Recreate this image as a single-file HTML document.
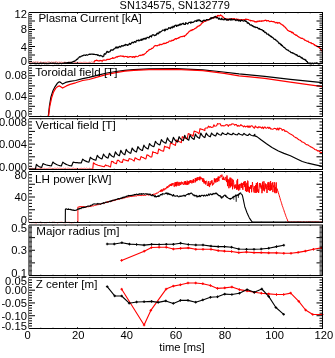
<!DOCTYPE html>
<html><head><meta charset="utf-8"><style>
html,body{margin:0;padding:0;background:#fff;width:335px;height:358px;overflow:hidden}
svg{display:block;filter:blur(0.3px)}
text{font-family:"Liberation Sans",sans-serif;fill:#000}
.tx{will-change:transform}
</style></head><body>
<svg width="335" height="358" viewBox="0 0 335 358">
<rect width="335" height="358" fill="#fff"/>
<g>
<polyline points="29.00,62.14 29.80,61.99 30.60,62.44 31.40,61.92 32.20,62.33 33.00,62.18 33.80,61.90 34.60,62.31 35.40,61.88 36.20,62.24 37.00,61.91 37.80,61.93 38.60,62.23 39.40,62.59 40.20,61.96 41.00,62.05 41.80,62.41 42.60,62.70 43.40,62.37 44.20,62.21 45.00,62.73 45.80,61.89 46.60,62.62 47.40,62.11 48.20,61.98 49.00,61.96 49.80,62.13 50.60,62.58 51.40,62.01 52.20,62.37 53.00,62.43 53.80,62.19 54.60,62.34 55.40,61.91 56.20,61.90 57.00,62.04 57.80,62.46 58.60,62.23 59.40,62.13 60.20,62.38 61.00,62.26 61.80,62.12 62.60,62.56 63.40,62.48 64.20,62.07 65.00,62.37 65.80,62.32 66.60,62.64 67.40,62.51 68.20,62.11 69.00,62.73 69.80,61.96 70.60,62.23 71.40,62.53 72.20,61.99 73.00,62.29 73.80,61.89 74.60,62.45 75.40,62.54 76.20,62.37 77.00,62.64 77.80,62.13 78.60,62.48 79.40,62.38 80.20,62.37 81.00,62.26 81.80,62.61 82.60,62.70 83.40,62.28 84.20,62.45 85.00,61.90 85.80,62.48 86.60,62.43 87.40,62.74 88.20,62.59 89.00,62.11 89.80,62.20 90.60,62.45 91.40,61.87 92.20,62.27 93.00,62.00 93.80,61.96 94.00,61.90" fill="none" stroke="#f00" stroke-width="0.9" stroke-linejoin="round" stroke-opacity="0.55"/>
<polyline points="94.00,62.67 94.50,60.93 94.60,60.98 95.20,60.71 95.80,60.77 96.40,60.01 97.00,60.42 97.60,60.55 98.20,60.92 98.80,60.89 99.40,60.96 100.00,60.41 100.60,60.58 101.20,60.56 101.80,61.03 102.40,61.06 103.00,60.20 103.60,60.18 104.20,60.18 104.80,60.13 105.40,60.23 106.00,60.19 106.60,59.71 107.20,59.30 107.80,59.57 108.40,59.37 109.00,59.35 109.60,59.52 110.20,59.04 110.80,58.65 111.40,58.53 112.00,58.38 112.60,57.62 113.20,58.33 113.80,58.07 114.40,58.03 115.00,57.82 115.60,57.28 116.20,57.15 116.80,56.72 117.40,57.12 118.00,56.41 118.60,56.28 119.20,56.29 119.80,56.11 120.00,56.24 120.40,55.97 121.00,55.96 121.60,56.14 122.20,56.12 122.80,56.42 123.40,56.11 124.00,57.00 124.60,56.77 125.20,56.34 125.80,56.47 126.40,56.60 127.00,56.65 127.20,56.42 127.60,57.17 128.20,57.34 128.80,56.83 129.40,56.88 130.00,56.50 130.60,56.55 131.20,56.81 131.80,56.76 132.40,57.35 133.00,56.71 133.60,56.59 134.20,57.55 134.30,57.13 134.80,56.61 135.40,56.84 136.00,56.15 136.60,56.49 137.20,56.77 137.80,56.49 138.40,56.16 139.00,55.56 139.60,55.49 140.20,55.13 140.80,55.57 141.40,55.16 142.00,55.24 142.60,54.62 143.20,54.35 143.30,54.91 143.80,54.71 144.40,54.12 145.00,53.62 145.60,53.17 146.20,52.64 146.80,51.67 147.40,51.50 148.00,50.89 148.60,50.10 148.70,50.03 149.20,49.92 149.80,49.46 150.40,49.46 151.00,49.29 151.60,48.34 152.20,48.40 152.80,48.01 153.40,47.54 154.00,46.52 154.60,45.94 154.90,45.73 155.20,45.61 155.80,45.46 156.40,45.71 157.00,45.83 157.60,45.60 158.20,45.08 158.80,45.09 159.40,45.07 160.00,44.19 160.60,44.61 161.20,44.69 161.80,44.40 162.40,44.20 163.00,43.77 163.60,43.31 164.20,43.75 164.80,43.13 165.40,43.36 166.00,43.30 166.60,42.49 167.20,42.26 167.80,42.57 168.40,42.11 169.00,41.32 169.60,41.04 170.20,40.83 170.80,41.35 171.40,41.01 172.00,40.11 172.60,40.56 173.20,40.48 173.70,39.96 173.80,39.61 174.40,39.55 175.00,38.87 175.60,38.50 176.20,39.20 176.80,38.62 177.40,38.24 178.00,38.39 178.60,37.63 179.20,37.81 179.80,37.51 180.00,36.81 180.40,36.77 181.00,36.69 181.60,36.52 182.20,36.75 182.80,36.30 183.40,36.34 184.00,35.93 184.50,36.61 184.60,35.95 185.20,35.46 185.80,34.98 186.40,34.70 187.00,33.62 187.60,33.52 188.20,32.50 188.80,31.93 189.00,31.72 189.40,31.01 190.00,31.13 190.60,30.57 191.20,30.08 191.80,30.57 192.40,29.64 193.00,29.64 193.60,29.58 194.20,29.11 194.30,28.83 194.80,28.68 195.40,28.30 196.00,28.12 196.60,27.03 197.20,27.08 197.80,26.35 198.40,25.97 199.00,26.06 199.60,25.38 200.00,25.16 200.20,25.16 200.80,24.71 201.40,23.64 202.00,23.21 202.40,22.71 202.60,22.57 203.20,22.33 203.80,21.66 204.40,21.32 204.80,20.98 205.00,21.37 205.60,20.90 206.20,20.85 206.80,20.69 207.40,19.78 208.00,19.86 208.60,20.02 209.20,19.69 209.60,18.84 209.80,18.75 210.40,18.84 211.00,18.24 211.60,18.17 212.20,17.78 212.80,18.14 213.40,18.03 214.00,17.91 214.30,17.05 214.60,17.47 215.20,17.11 215.80,16.29 216.40,16.73 217.00,16.52 217.60,15.47 217.90,16.05 218.20,15.47 218.80,15.50 219.40,15.94 220.00,15.72 220.60,14.99 220.90,15.23 221.20,15.57 221.80,15.89 222.40,16.25 222.70,16.62 223.00,17.37 223.60,17.37 224.20,18.60 224.50,18.84 224.80,18.45 225.40,18.84 226.00,19.20 226.60,19.16 227.20,18.79 227.80,19.78 228.40,19.65 228.70,19.87 229.00,18.97 229.60,19.07 230.20,18.78 230.80,19.46 231.40,18.88 232.00,18.68 232.60,18.91 233.20,19.33 233.40,19.22 233.80,18.71 234.40,18.69 235.00,19.54 235.60,19.28 236.20,19.49 236.80,18.96 237.00,18.96 237.40,19.68 238.00,19.56 238.60,19.35 239.20,20.35 239.80,20.19 240.00,20.40 240.40,19.65 241.00,20.36 241.60,19.51 242.20,20.25 242.80,19.79 243.40,19.62 244.00,19.77 244.60,20.09 245.20,19.37 245.80,19.18 246.30,19.53 246.40,19.26 247.00,19.28 247.60,19.49 248.20,19.53 248.80,19.83 249.40,20.09 250.00,20.23 250.60,20.83 250.70,20.39 251.20,20.74 251.80,20.60 252.40,20.94 253.00,20.78 253.60,21.19 254.20,21.13 254.80,22.02 255.20,21.95 255.40,21.55 256.00,21.71 256.60,22.05 257.20,21.11 257.80,21.70 258.40,21.19 259.00,21.14 259.60,21.35 259.70,20.89 260.20,20.97 260.80,21.11 261.40,21.36 262.00,20.67 262.60,21.12 263.20,20.95 263.80,20.83 264.40,20.56 265.00,20.45 265.10,20.15 265.60,20.30 266.20,20.32 266.80,21.07 267.40,20.66 268.00,20.65 268.60,20.65 269.20,21.48 269.80,21.59 270.40,21.47 271.00,21.20 271.60,21.29 272.20,21.46 272.80,21.75 273.40,21.57 274.00,21.98 274.60,21.92 275.20,22.74 275.80,22.87 276.40,22.58 277.00,22.40 277.60,23.25 278.20,22.72 278.80,22.90 279.40,22.67 280.00,23.18 280.60,23.75 281.20,24.25 281.80,24.42 282.40,25.20 283.00,25.17 283.60,25.91 283.80,25.89 284.20,26.60 284.80,26.84 285.40,27.42 286.00,28.30 286.60,28.83 287.20,29.79 287.60,30.13 287.80,30.45 288.40,30.67 289.00,31.03 289.60,31.50 290.20,31.32 290.80,31.56 291.40,32.53 292.00,32.00 292.10,32.62 292.60,32.88 293.20,32.68 293.80,33.87 294.40,34.33 295.00,34.46 295.60,34.97 296.20,35.45 296.60,35.04 296.80,35.54 297.40,35.86 298.00,36.54 298.60,36.85 299.20,37.22 299.80,37.32 300.40,37.97 301.00,38.11 301.60,38.46 302.20,38.34 302.70,38.43 302.80,38.58 303.40,39.11 304.00,39.15 304.60,40.19 305.20,40.21 305.80,40.58 306.40,40.88 307.00,41.23 307.60,41.34 308.20,41.15 308.70,42.20 308.80,42.20 309.40,42.25 310.00,42.59 310.60,43.01 311.20,42.72 311.80,43.69 312.40,43.50 313.00,43.62 313.60,44.12 314.20,44.88 314.70,44.61 314.80,45.20 315.40,45.77 316.00,45.63 316.60,45.86 317.20,46.29 317.80,46.84 318.40,47.26 319.00,47.45 319.30,47.64 319.60,47.49 320.20,48.37 320.80,49.30 321.40,50.61 321.50,50.30 322.00,50.82 322.50,50.51" fill="none" stroke="#f00" stroke-width="1.2" stroke-linejoin="round" />
<polyline points="29.00,63.09 29.60,63.24 30.20,63.52 30.80,63.53 31.40,63.52 32.00,63.25 32.60,63.41 33.20,63.38 33.80,63.38 34.40,63.13 35.00,63.68 35.60,63.19 36.20,63.73 36.80,63.71 37.40,63.06 38.00,63.37 38.60,63.62 39.20,63.73 39.80,63.36 40.40,63.24 41.00,63.20 41.60,63.71 42.20,63.20 42.80,63.46 43.40,63.15 44.00,63.42 44.60,63.72 45.20,63.14 45.80,63.62 46.40,63.41 47.00,63.67 47.60,63.54 48.20,63.21 48.80,63.68 49.40,63.39 50.00,63.07 50.60,63.05 51.20,63.39 51.80,63.37 52.40,63.26 53.00,63.15 53.60,63.29 54.20,63.27 54.80,63.64 55.40,63.05 56.00,63.58 56.60,63.64 57.20,63.13 57.80,63.70 58.40,63.55 59.00,63.68 59.60,63.25 60.20,63.31 60.80,63.33 61.40,63.75 62.00,63.46 62.60,63.26 63.20,63.26 63.80,63.11 64.40,62.90 65.00,62.90 65.60,63.36 66.00,62.95 66.20,63.37 66.80,62.79 67.40,62.70 68.00,62.77 68.60,62.44 69.20,62.47 69.80,62.77 70.40,62.62 70.70,62.52 71.00,62.31 71.60,62.34 72.20,62.19 72.80,61.75 73.40,61.70 74.00,61.07 74.30,61.46 74.60,61.07 75.20,60.88 75.80,60.40 76.40,59.75 77.00,59.18 77.60,59.20 78.20,58.04 78.80,57.68 79.40,56.99 79.70,56.66 80.00,56.86 80.60,56.81 81.20,56.09 81.80,56.15 82.40,55.69 83.00,55.65 83.30,55.43 83.60,55.22 84.20,55.11 84.80,55.05 85.40,55.43 86.00,55.05 86.60,54.75 87.20,55.13 87.80,55.10 88.40,54.61 88.70,54.35 89.00,54.35 89.60,54.21 90.20,54.32 90.80,54.08 91.40,54.11 92.00,54.06 92.60,54.21 93.10,54.37 93.20,54.29 93.80,54.18 94.40,54.30 95.00,54.50 95.60,54.51 96.20,54.61 96.80,54.53 97.40,54.80 97.60,55.33 98.00,54.86 98.60,55.31 99.20,55.59 99.80,55.94 100.40,55.39 101.00,55.67 101.60,55.82 102.10,56.23 102.20,56.25 102.80,56.74 103.40,56.20 103.90,55.93 104.00,54.38 104.60,53.73 105.20,54.21 105.80,53.86 106.40,52.48 106.60,52.45 107.00,51.29 107.60,51.71 108.20,52.37 108.80,51.95 109.40,51.76 110.00,51.71 110.60,50.24 111.00,49.84 111.20,49.79 111.80,50.06 112.40,49.97 113.00,50.05 113.60,49.32 114.20,48.83 114.80,48.67 115.40,47.79 115.50,47.89 116.00,46.92 116.60,48.06 117.20,47.01 117.80,48.05 118.40,47.47 119.00,46.77 119.60,46.35 120.00,46.48 120.20,47.07 120.80,47.00 121.40,45.82 122.00,45.57 122.60,46.16 123.20,46.08 123.80,45.57 124.40,45.11 125.00,45.57 125.60,44.39 126.20,44.70 126.80,44.79 127.40,45.46 128.00,44.75 128.60,44.97 129.00,44.16 129.20,43.67 129.80,43.46 130.40,44.43 131.00,43.76 131.60,42.85 132.20,42.13 132.80,42.70 133.40,42.77 134.00,42.10 134.60,41.59 135.20,42.05 135.80,42.25 136.40,40.83 137.00,40.26 137.60,40.54 137.90,40.56 138.20,40.92 138.80,39.92 139.40,40.76 140.00,40.48 140.60,39.90 141.20,39.21 141.80,40.33 142.40,39.03 143.00,39.71 143.60,38.53 144.20,38.34 144.80,39.07 145.40,38.10 146.00,39.04 146.60,38.08 146.90,37.47 147.20,37.41 147.80,37.49 148.40,37.67 149.00,37.91 149.60,36.31 150.20,36.48 150.80,35.93 151.40,36.99 152.00,35.33 152.60,34.93 153.20,34.70 153.80,35.03 154.40,35.64 155.00,35.38 155.60,34.88 155.80,35.25 156.20,34.93 156.80,33.61 157.40,33.07 158.00,34.04 158.60,33.42 159.20,31.90 159.80,32.68 160.40,31.89 161.00,31.59 161.60,31.21 162.20,30.64 162.80,30.05 163.40,30.23 164.00,30.05 164.60,30.77 164.80,29.26 165.20,30.55 165.80,29.04 166.40,29.08 167.00,29.66 167.60,29.44 168.20,28.56 168.80,27.70 169.40,28.20 170.00,27.81 170.60,28.53 171.20,27.08 171.80,27.15 172.40,27.84 173.00,26.15 173.60,26.58 173.70,27.23 174.20,26.98 174.80,25.53 175.40,25.32 176.00,25.15 176.60,26.40 177.20,25.06 177.80,25.69 178.40,25.74 179.00,24.58 179.60,24.25 180.00,25.28 180.20,24.67 180.80,23.96 181.40,24.63 182.00,23.85 182.60,23.69 183.20,23.12 183.80,24.30 184.40,24.47 185.00,23.89 185.40,24.35 185.60,22.75 186.20,22.97 186.80,23.24 187.40,23.92 188.00,23.78 188.60,22.68 189.20,22.32 189.80,22.48 190.40,22.46 190.70,23.13 191.00,21.79 191.60,22.69 192.20,22.43 192.80,22.42 193.40,22.19 194.00,21.76 194.60,21.13 195.20,20.97 195.80,20.89 196.40,21.45 197.00,20.11 197.60,20.16 197.90,21.03 198.20,20.19 198.80,19.92 199.40,19.91 200.00,20.84 200.60,20.49 201.20,21.65 201.80,21.53 202.40,21.75 203.00,20.56 203.60,20.29 204.20,20.11 204.80,20.60 205.40,20.76 206.00,20.11 206.60,19.55 207.20,19.66 207.80,19.78 208.40,19.65 209.00,19.55 209.60,19.49 210.20,18.95 210.80,17.81 211.40,18.80 212.00,17.65 212.60,17.94 213.20,17.44 213.80,17.89 214.40,16.80 215.00,16.71 215.50,16.57 215.60,16.46 216.20,17.96 216.80,17.71 217.40,17.55 218.00,17.93 218.60,19.21 219.10,18.61 219.20,18.16 219.80,19.22 220.40,19.04 221.00,19.69 221.60,18.26 222.20,18.98 222.80,19.64 223.40,19.76 224.00,19.97 224.60,18.56 225.00,19.05 225.20,18.75 225.80,18.87 226.40,20.20 227.00,19.54 227.60,20.13 228.20,19.18 228.80,20.02 229.40,19.31 230.00,18.99 230.60,19.87 231.00,20.16 231.20,18.77 231.80,19.73 232.40,19.90 233.00,19.34 233.60,19.72 234.20,19.46 234.80,19.69 235.40,19.90 235.80,20.57 236.00,20.68 236.60,19.97 237.20,19.70 237.80,20.30 238.40,20.95 239.00,20.17 239.60,20.44 240.00,20.30 240.20,21.31 240.80,20.91 241.40,20.11 242.00,20.20 242.60,20.72 243.20,21.00 243.80,21.18 244.40,20.27 245.00,20.41 245.40,21.33 245.60,20.99 246.20,21.21 246.80,21.68 247.40,23.21 248.00,22.56 248.60,23.42 249.00,23.36 249.20,23.60 249.80,24.77 250.40,25.06 251.00,24.84 251.60,25.08 252.20,26.02 252.50,25.70 252.80,25.62 253.40,26.75 254.00,26.51 254.60,27.14 255.20,26.96 255.80,27.67 256.40,27.48 257.00,27.41 257.60,27.50 257.90,28.15 258.20,28.39 258.80,28.96 259.40,28.44 260.00,29.27 260.60,29.32 261.20,29.75 261.80,29.70 262.40,30.13 263.00,30.67 263.30,31.23 263.60,30.66 264.20,31.53 264.80,32.34 265.00,32.67 265.40,32.17 266.00,32.51 266.60,33.74 267.20,34.18 267.80,34.10 268.40,34.08 269.00,35.37 269.60,35.24 270.20,36.17 270.40,36.02 270.80,36.54 271.40,36.34 272.00,37.43 272.60,37.33 273.20,37.98 273.80,38.89 274.40,39.34 275.00,39.16 275.60,39.66 275.80,40.00 276.20,40.47 276.80,40.87 277.40,41.14 278.00,41.80 278.60,42.81 279.20,43.51 279.80,43.19 280.40,44.24 281.00,44.97 281.10,44.34 281.60,45.57 282.20,45.38 282.80,46.38 283.40,46.85 284.00,47.45 284.60,47.65 285.20,48.29 285.80,48.97 286.40,49.34 286.50,49.66 287.00,49.75 287.60,50.11 288.20,50.06 288.80,51.02 289.40,51.26 290.00,51.37 290.60,52.27 291.20,52.65 291.80,52.70 291.90,52.48 292.40,53.02 293.00,52.96 293.60,53.28 294.20,53.88 294.80,53.84 295.40,54.49 296.00,54.86 296.60,54.69 297.20,55.59 297.30,55.08 297.80,55.99 298.40,56.34 299.00,56.38 299.60,56.23 300.20,56.98 300.80,57.16 301.40,58.04 302.00,57.53 302.60,58.56 303.20,59.05 303.80,59.14 304.40,59.57 305.00,59.31 305.60,60.45 306.00,60.19 306.20,60.90 306.80,61.60 307.40,61.59 307.70,62.59 308.00,63.39 308.20,62.97 308.60,63.25 309.20,63.66 309.80,63.06 310.40,63.80 311.00,63.17 311.60,63.72 312.20,63.04 312.80,63.40 313.40,63.82 314.00,63.11 314.60,63.16 315.20,63.41 315.80,63.22 316.40,62.94 317.00,63.08 317.60,63.06 318.20,63.84 318.80,63.58 319.40,63.80 320.00,63.07 320.60,63.68 321.20,63.02 321.80,63.43 322.40,63.54 322.50,63.26" fill="none" stroke="#000" stroke-width="1.25" stroke-linejoin="round" />
<polyline points="29.00,116.50 48.00,116.50 48.40,115.50 49.40,106.20 50.90,97.20 52.80,91.10 55.10,86.60 57.30,83.30 59.30,81.80 60.60,82.40 62.60,84.10 65.60,82.40 70.00,81.30 75.60,80.50 82.70,78.70 89.00,77.40 98.00,75.10 106.90,73.00 115.90,71.50 124.80,70.40 133.80,69.70 149.00,68.90 175.90,68.60 202.70,69.90 218.90,71.50 239.00,73.90 264.70,76.30 290.30,79.40 322.50,82.60" fill="none" stroke="#000" stroke-width="1.2" stroke-linejoin="round" />
<polyline points="29.00,116.50 48.30,116.50 48.60,115.50 49.80,106.20 51.80,97.20 53.60,91.90 55.80,88.10 58.10,86.30 59.60,85.90 62.60,88.10 66.40,85.90 70.00,84.40 75.60,82.80 82.70,80.50 89.00,79.50 98.00,76.90 106.90,74.40 115.90,72.60 124.80,71.20 133.80,70.30 149.00,69.60 175.90,69.40 202.70,70.70 224.20,73.40 239.00,75.80 250.00,76.90 264.70,78.30 290.30,82.20 322.50,86.60" fill="none" stroke="#f00" stroke-width="1.2" stroke-linejoin="round" />
<polyline points="29.00,168.80 29.80,168.54 30.60,168.56 31.40,168.81 32.20,168.18 33.00,168.89 33.80,168.60 34.60,168.42 35.40,168.74 36.20,168.31 37.00,168.89 37.80,168.56 38.60,168.39 39.40,168.71 40.20,168.45 41.00,168.24 41.80,168.69 42.60,168.14 43.40,168.76 44.20,168.30 45.00,168.61 45.80,168.89 46.60,168.57 47.40,168.63 48.20,168.35 49.00,168.10 49.80,168.13 50.60,168.22 51.40,168.59 52.20,168.45 53.00,168.51 53.80,168.82 54.60,168.21 55.40,168.28 56.20,168.62 57.00,168.12 57.80,168.10 58.60,168.38 59.40,168.19 60.20,168.39 61.00,168.28 61.80,168.57 62.60,168.57 63.40,168.26 64.20,168.60 65.00,168.48 65.80,168.21 66.60,168.85 67.40,168.29 68.20,168.22 69.00,168.18 69.80,168.61 70.60,168.80 71.40,168.73 72.20,168.42 73.00,168.31 73.80,168.11 74.60,168.62 75.40,168.55 76.20,168.38 77.00,168.62 77.80,168.46 78.60,168.85 79.40,168.69 80.20,168.30 81.00,168.82 81.80,168.14 82.60,168.53 83.40,168.42 84.20,168.29 85.00,168.15 85.80,168.72 86.60,168.11 87.40,168.54 88.20,168.85 89.00,168.21 89.80,168.26 90.60,168.59 91.40,168.51 92.20,168.61" fill="none" stroke="#f00" stroke-width="0.9" stroke-linejoin="round" stroke-opacity="0.6"/>
<polyline points="92.40,168.80 92.80,168.80 93.40,162.80 95.00,164.00 98.00,165.20 101.00,166.00 104.10,166.80 105.60,164.86 106.82,165.68 108.05,165.75 109.27,166.43 110.50,167.00 111.50,161.28 112.72,161.49 113.95,162.74 115.17,163.23 116.40,163.75 117.40,160.22 118.62,160.40 119.85,161.64 121.08,162.14 122.30,162.49 123.30,159.12 124.53,159.89 125.75,160.23 126.98,160.63 128.20,161.11 129.20,158.57 130.43,158.93 131.65,159.35 132.88,160.16 134.10,161.07 135.10,157.72 136.33,158.45 137.55,159.15 138.78,159.62 140.00,159.84 141.00,156.54 142.23,157.15 143.45,157.63 144.68,158.49 145.90,158.85 146.90,154.86 148.13,155.25 149.35,156.12 150.58,156.96 151.80,156.93 152.80,151.68 154.03,152.56 155.25,152.44 156.48,153.21 157.70,153.77 158.70,148.95 159.93,149.72 161.15,150.46 162.38,150.87 163.60,151.11 164.60,146.10 165.83,146.98 167.05,147.11 168.28,147.62 169.50,148.73 170.50,142.77 171.73,143.45 172.95,144.08 174.18,144.63 175.40,145.46 176.40,140.04 177.63,140.59 178.85,141.46 180.08,141.92 181.30,142.62 182.30,136.65 183.53,137.17 184.75,137.98 185.98,138.43 187.20,138.80 188.20,133.61 189.43,133.95 190.65,134.86 191.88,135.00 193.10,136.24 194.10,131.15 195.33,131.44 196.55,131.92 197.78,132.56 199.00,133.79 200.00,128.65 201.23,129.11 202.45,129.52 203.68,130.00 204.90,130.59 204.90,128.43 205.80,128.02 206.70,127.94 207.60,127.88 208.50,126.12 209.40,127.23 210.30,126.54 211.20,127.48 212.10,127.29 213.00,127.10 213.90,124.77 214.80,126.33 215.70,126.09 216.60,125.80 217.50,123.59 218.40,123.94 219.30,123.82 220.20,123.74 221.10,125.80 222.00,125.83 222.90,125.51 223.80,126.07 224.70,125.72 225.60,125.00 226.50,124.66 227.40,124.76 228.30,126.35 229.20,124.80 230.10,124.86 231.00,124.89 231.90,123.71 232.80,124.06 233.70,124.03 234.60,125.21 235.50,124.53 236.40,124.56 237.30,126.25 238.20,125.30 239.10,126.28 240.00,125.86 240.90,124.60 241.80,125.67 242.70,125.87 243.60,126.83 244.50,125.95 245.40,126.92 246.30,126.59 247.20,125.88 248.10,127.50 249.00,125.71 249.90,127.52 250.80,126.03 251.70,125.69 252.60,126.24 253.50,127.65 254.40,128.23 255.30,125.95 256.20,127.16 257.10,127.21 258.00,127.99 258.90,126.57 259.80,127.36 260.70,127.05 261.60,128.26 262.50,126.94 263.40,128.63 264.30,127.10 265.20,127.04 266.10,128.31 267.00,127.93 267.90,127.10 268.80,128.47 269.70,127.24 270.60,129.04 271.50,128.92 272.40,129.24 273.30,128.96 274.20,128.40 275.10,128.58 276.00,128.64 276.90,129.91 277.80,128.05 278.70,130.05 279.60,128.06 280.50,128.57 281.40,128.78 282.30,130.39 283.20,129.50 284.10,129.74 285.00,131.47 285.90,130.86 286.80,131.57 287.70,132.15 288.60,132.91 289.50,133.52 290.40,134.04 291.30,134.41 292.20,135.00 293.10,135.47 294.00,136.63 294.90,137.09 295.80,137.76 296.70,137.90 297.60,138.72 298.50,139.59 299.40,140.03 300.30,140.27 301.20,141.14 302.10,142.07 303.00,142.11 303.90,142.61 304.80,143.23 305.70,144.09 306.60,144.74 307.50,144.73 308.40,145.27 309.30,145.88 310.20,146.46 311.10,147.12 312.00,147.34 312.90,147.98 313.80,148.37 314.70,149.51 315.60,149.82 316.50,149.83 317.40,150.92 318.30,150.63 319.20,151.25 320.10,152.13 321.00,152.37 321.90,152.72 322.50,152.80" fill="none" stroke="#f00" stroke-width="1.1" stroke-linejoin="round" />
<polyline points="29.00,169.20 35.40,169.20 36.40,164.30 37.27,165.21 38.13,165.91 39.00,166.44 39.87,166.85 40.73,167.16 41.60,167.40 43.10,163.50 44.48,164.20 45.87,164.74 47.25,165.16 48.63,165.47 50.02,165.71 51.40,165.90 52.90,162.00 54.30,163.17 55.70,164.07 57.10,164.76 58.50,165.29 59.90,165.69 61.30,166.00 62.80,162.10 64.27,163.24 65.73,164.12 67.20,164.79 68.67,165.30 70.13,165.70 71.60,166.00 73.10,162.10 74.45,162.36 75.80,162.57 77.15,162.72 78.50,162.84 79.85,162.93 81.20,163.00 82.70,159.10 83.73,159.98 84.77,160.65 85.80,161.17 86.83,161.57 87.87,161.87 88.90,162.10 90.40,157.30 91.30,158.15 92.20,158.80 93.10,159.30 94.00,159.68 94.90,159.98 95.80,160.20 97.30,155.40 98.08,156.43 98.87,157.21 99.65,157.81 100.43,158.28 101.22,158.63 102.00,158.90 103.50,154.10 104.25,155.27 105.00,156.17 105.75,156.86 106.50,157.39 107.25,157.79 108.00,158.10 109.50,153.30 110.24,154.41 110.98,155.27 111.71,155.92 112.45,156.42 113.19,156.81 113.93,157.10 115.40,151.80 116.08,152.94 116.75,153.82 117.43,154.49 118.10,155.00 118.78,155.40 119.45,155.70 120.80,150.40 121.47,151.66 122.15,152.63 122.82,153.37 123.50,153.93 124.17,154.37 124.85,154.70 126.20,149.40 126.95,150.54 127.70,151.42 128.45,152.09 129.20,152.60 129.95,153.00 130.70,153.30 132.20,148.00 132.91,149.14 133.62,150.02 134.34,150.69 135.05,151.20 135.76,151.60 136.47,151.90 137.90,146.60 138.65,147.74 139.40,148.62 140.15,149.29 140.90,149.80 141.65,150.20 142.40,150.50 143.90,145.20 144.60,146.29 145.30,147.12 146.00,147.75 146.70,148.24 147.40,148.61 148.10,148.90 149.50,143.60 150.24,144.48 150.97,145.15 151.71,145.67 152.45,146.07 153.19,146.37 153.93,146.60 155.40,141.30 156.15,142.36 156.90,143.16 157.65,143.78 158.40,144.26 159.15,144.62 159.90,144.90 161.40,139.60 162.15,140.66 162.90,141.46 163.65,142.08 164.40,142.56 165.15,142.92 165.90,143.20 167.40,137.90 168.15,139.28 168.90,140.33 169.65,141.14 170.40,141.76 171.15,142.24 171.90,142.60 173.40,137.30 174.11,138.68 174.83,139.73 175.54,140.54 176.25,141.16 176.96,141.64 177.68,142.00 179.10,136.70 179.80,137.84 180.50,138.72 181.20,139.39 181.90,139.90 182.60,140.30 183.30,140.60 184.70,135.30 185.38,136.74 186.05,137.84 186.72,138.68 187.40,139.33 188.07,139.82 188.75,140.20 190.10,134.90 190.76,136.22 191.42,137.23 192.09,138.00 192.75,138.60 193.41,139.05 194.07,139.40 195.40,134.10 196.08,135.33 196.75,136.27 197.43,136.99 198.10,137.55 198.78,137.97 199.45,138.29 200.80,133.10 201.48,134.40 202.15,135.40 202.82,136.16 203.50,136.74 204.18,137.19 204.85,137.53 206.20,133.05 206.88,134.14 207.55,134.98 208.22,135.62 208.90,136.11 209.57,136.48 210.25,136.77 211.60,133.00 212.28,133.87 212.95,134.53 213.62,135.03 214.30,135.42 214.97,135.72 215.65,135.94 217.00,132.89 217.68,133.56 218.35,134.08 219.03,134.47 219.70,134.77 220.38,135.00 221.05,135.18 222.40,132.84 223.08,133.36 223.75,133.76 224.43,134.07 225.10,134.31 225.78,134.49 226.45,134.62 227.80,133.00 228.48,133.51 229.15,133.91 229.82,134.21 230.50,134.44 231.18,134.62 231.85,134.76 233.20,133.16 233.88,133.67 234.55,134.07 235.22,134.37 235.90,134.60 236.57,134.78 237.25,134.91 238.60,133.31 239.28,133.83 239.95,134.22 240.62,134.53 241.30,134.76 241.97,134.93 242.65,135.07 244.00,133.47 244.68,134.06 245.35,134.50 246.03,134.85 246.70,135.11 247.38,135.31 248.05,135.47 249.40,133.87 250.08,134.46 250.75,134.92 251.43,135.27 252.10,135.54 252.78,135.74 253.45,135.90 254.80,134.30 254.78,134.77 254.75,135.13 254.73,135.40 254.70,135.61 254.68,135.78 254.65,135.90 256.90,136.60 261.00,139.80 266.50,143.80 272.00,147.50 278.40,151.00 284.00,153.40 290.40,155.70 296.00,158.50 302.30,161.50 308.00,163.20 314.30,164.60 322.50,166.40" fill="none" stroke="#000" stroke-width="1.2" stroke-linejoin="round" />
<polyline points="29.00,222.43 29.28,222.20 29.56,222.64 29.84,222.11 30.12,222.21 30.40,222.39 30.68,222.03 30.96,222.40 31.24,222.79 31.52,222.69 31.80,222.50 32.08,222.63 32.36,222.46 32.64,222.14 32.92,222.60 33.20,222.40 33.48,222.74 33.76,222.91 34.04,222.43 34.32,222.57 34.60,222.75 34.88,222.42 35.16,222.23 35.44,222.72 35.72,222.88 36.00,222.77 36.28,222.70 36.56,222.85 36.84,222.68 37.12,222.64 37.40,222.45 37.68,222.31 37.96,222.63 38.24,222.10 38.52,222.42 38.80,222.78 39.08,222.71 39.36,222.63 39.64,222.25 39.92,222.42 40.20,222.46 40.48,222.62 40.76,222.41 41.04,222.68 41.32,222.93 41.60,222.18 41.88,222.65 42.16,222.78 42.44,222.39 42.72,222.49 43.00,222.97 43.28,222.04 43.56,222.54 43.84,222.16 44.12,222.78 44.40,222.94 44.68,222.52 44.96,222.10 45.24,222.57 45.52,222.54 45.80,222.72 46.08,222.51 46.36,222.64 46.64,222.83 46.92,222.52 47.20,222.41 47.48,222.95 47.76,222.21 48.04,222.68 48.32,222.39 48.60,222.76 48.88,222.12 49.16,222.98 49.44,222.36 49.72,222.06 50.00,222.27 50.28,222.40 50.56,222.01 50.84,222.42 51.12,222.42 51.40,222.70 51.68,222.35 51.96,222.27 52.24,222.22 52.52,222.74 52.80,222.94 53.08,222.53 53.36,222.22 53.64,222.80 53.92,222.39 54.20,222.21 54.48,222.13 54.76,222.78 55.04,222.81 55.32,222.63 55.60,222.47 55.88,222.56 56.16,222.23 56.44,222.96 56.72,222.35 57.00,222.64 57.28,222.82 57.56,222.82 57.84,222.47 58.12,222.29 58.40,222.55 58.68,222.13 58.96,222.83 59.24,222.35 59.52,222.85 59.80,222.27 60.08,222.38 60.36,222.25 60.64,222.43 60.92,222.19 61.20,222.00 61.48,222.72 61.76,222.28 62.04,222.24 62.32,222.30 62.60,222.48 62.88,222.43 63.16,222.64 63.44,222.66 63.72,222.36 64.00,222.93 64.28,222.85 64.56,222.06 64.84,222.83 65.12,222.91 65.40,222.78 65.68,222.14 65.96,222.83 66.24,222.63 66.52,222.01 66.80,222.01 67.08,222.95 67.36,222.66 67.64,222.25 67.92,222.10 68.20,222.14 68.48,222.23 68.76,222.78 69.04,222.35 69.32,222.15 69.60,222.90 69.88,222.79 70.16,222.17 70.44,222.89 70.72,222.61 71.00,222.78 71.28,222.67 71.56,222.89 71.84,222.79 72.12,222.84 72.40,222.20 72.68,222.69 72.96,222.53 73.24,222.74 73.52,222.44 73.80,222.88 74.08,222.56 74.36,222.26 74.64,222.23 74.92,222.14 75.20,222.49 75.48,222.06 75.76,222.47 76.04,222.14 76.32,222.49 76.60,222.50 76.88,222.54 77.16,222.86 77.44,222.01 77.72,222.84 77.90,222.50 77.90,206.90 78.00,206.86 78.28,206.94 78.56,207.03 78.84,207.19 79.12,206.71 79.40,206.74 79.68,207.26 79.96,206.36 80.24,206.91 80.52,206.89 80.80,206.27 81.08,206.83 81.36,206.89 81.50,207.13 81.64,206.54 81.92,207.20 82.20,206.74 82.48,206.73 82.76,207.15 83.04,206.30 83.32,206.99 83.60,206.91 83.88,206.64 84.16,207.17 84.44,206.69 84.72,206.81 85.00,206.87 85.28,207.13 85.56,206.58 85.84,206.82 86.12,206.81 86.30,206.95 86.40,207.21 86.68,206.64 86.96,207.14 87.24,206.68 87.52,206.75 87.80,206.48 88.08,206.68 88.36,207.11 88.64,206.76 88.92,206.86 89.20,206.36 89.48,206.31 89.76,206.26 90.04,206.51 90.32,206.52 90.60,206.64 90.88,205.86 91.00,206.52 91.16,206.65 91.44,206.24 91.72,205.67 92.00,205.85 92.28,205.49 92.56,205.60 92.84,206.26 93.12,205.88 93.40,205.86 93.68,205.92 93.96,205.97 94.24,205.60 94.52,205.54 94.80,205.48 95.08,205.48 95.36,205.31 95.64,205.32 95.80,204.81 95.92,205.24 96.20,204.98 96.48,205.23 96.76,204.52 97.04,204.55 97.32,204.35 97.60,205.03 97.88,205.12 98.16,204.81 98.44,204.47 98.72,204.87 99.00,204.78 99.28,204.50 99.56,204.14 99.84,204.13 100.00,204.22 100.12,204.08 100.40,204.11 100.68,204.24 100.96,204.45 101.24,203.49 101.52,203.92 101.80,203.31 102.08,203.31 102.36,203.92 102.64,203.61 102.92,203.87 103.20,203.31 103.48,202.80 103.76,203.09 104.04,203.21 104.32,203.48 104.60,203.44 104.88,202.85 105.16,202.71 105.44,202.32 105.72,202.78 106.00,202.26 106.28,202.12 106.56,201.90 106.84,201.81 107.12,202.41 107.40,201.76 107.68,202.53 107.96,201.57 108.24,202.27 108.52,201.44 108.80,201.25 109.08,201.87 109.36,201.31 109.60,201.73 109.64,201.18 109.92,200.97 110.20,201.62 110.48,201.49 110.76,201.56 111.04,201.37 111.32,200.65 111.60,201.12 111.88,201.13 112.16,200.81 112.44,201.21 112.72,200.47 113.00,201.11 113.28,200.79 113.56,200.01 113.84,199.94 114.12,200.51 114.40,200.60 114.68,199.80 114.96,199.96 115.24,200.30 115.52,199.67 115.80,200.29 116.08,199.85 116.36,199.35 116.64,199.59 116.92,199.73 117.20,199.52 117.48,199.69 117.76,199.08 118.04,199.67 118.32,199.16 118.60,199.37 118.88,199.29 119.10,199.02 119.16,198.97 119.44,199.30 119.72,199.39 120.00,199.16 120.28,198.87 120.56,198.53 120.84,198.23 121.12,199.07 121.40,198.73 121.68,198.78 121.96,198.22 122.24,198.42 122.52,198.72 122.80,198.51 123.08,198.21 123.36,197.84 123.64,197.89 123.92,198.28 124.20,197.70 124.48,197.94 124.76,197.79 125.04,198.01 125.32,197.85 125.60,197.26 125.88,196.91 126.16,197.10 126.44,197.19 126.72,197.28 127.00,197.44 127.28,197.44 127.56,196.53 127.84,197.25 128.12,197.16 128.40,197.14 128.68,196.78 128.70,196.47 128.96,197.02 129.24,196.94 129.52,196.79 129.80,196.99 130.08,196.39 130.36,196.09 130.64,196.53 130.92,196.74 131.20,196.11 131.48,196.63 131.76,196.78 132.04,196.05 132.32,196.39 132.60,196.43 132.88,196.18 133.16,195.89 133.44,195.91 133.72,196.37 134.00,196.38 134.28,196.01 134.56,195.61 134.84,196.30 135.12,196.23 135.40,195.66 135.68,195.97 135.96,196.26 136.24,196.21 136.52,195.82 136.80,195.74 137.08,195.82 137.36,195.39 137.64,195.36 137.92,195.31 138.20,195.80 138.48,195.44 138.76,195.62 139.04,195.44 139.32,195.53 139.60,195.14 139.88,195.01 140.16,195.94 140.44,195.30 140.72,195.01 141.00,195.51 141.28,195.65 141.56,194.99 141.84,195.41 142.12,195.14 142.40,195.29 142.68,194.77 142.96,194.76 143.24,195.70 143.52,195.55 143.80,195.15 144.08,195.21 144.36,194.88 144.64,195.38 144.92,195.00 145.20,195.50 145.48,195.30 145.76,195.33 146.04,195.45 146.32,194.72 146.60,194.48 146.88,194.63 147.16,194.58 147.20,194.48 147.44,194.43 147.72,194.92 148.00,195.21 148.28,194.78 148.56,195.25 148.84,195.19 149.12,194.33 149.40,194.84 149.68,194.62 149.96,194.33 150.24,195.15 150.52,194.42 150.80,194.71 151.08,194.77 151.36,195.06 151.64,194.76 151.92,194.46 152.20,194.50 152.48,194.19 152.76,194.97 153.04,194.98 153.32,194.19 153.60,193.99 153.88,194.19 154.16,194.26 154.30,194.80 154.44,194.73 154.72,194.53 155.00,193.60 155.28,194.20 155.56,193.98 155.84,193.78 156.12,193.98 156.40,192.91 156.68,192.85 156.96,193.32 157.24,193.37 157.52,192.97 157.80,192.45 158.08,192.60 158.36,192.63 158.64,191.84 158.92,191.91 159.20,191.71 159.48,191.43 159.70,191.68 159.76,191.34 160.04,190.89 160.32,190.51 160.60,191.64 160.88,189.89 161.16,191.43 161.44,190.03 161.72,189.49 162.00,191.48 162.28,189.63 162.56,191.19 162.84,190.88 163.12,190.78 163.40,188.83 163.68,189.42 163.96,188.43 164.24,190.27 164.52,189.91 164.80,189.25 165.08,188.67 165.36,188.25 165.64,189.26 165.92,188.28 166.20,188.49 166.48,187.17 166.76,187.21 166.90,186.74 167.04,188.20 167.32,187.58 167.60,186.37 167.88,187.88 168.16,186.20 168.44,186.31 168.72,185.47 169.00,185.51 169.28,186.64 169.56,185.20 169.84,184.57 170.12,185.11 170.40,184.46 170.68,185.83 170.96,183.90 171.24,185.94 171.52,183.69 171.80,185.67 172.08,185.46 172.36,183.32 172.64,184.51 172.92,183.59 173.20,183.42 173.48,183.13 173.76,183.84 174.04,186.69 174.32,186.68 174.60,186.31 174.88,182.47 175.16,183.31 175.44,186.07 175.72,182.17 175.80,185.24 176.00,183.23 176.28,186.36 176.56,181.91 176.84,185.53 177.12,183.36 177.40,182.41 177.68,181.75 177.96,185.55 178.24,184.12 178.52,182.53 178.80,183.65 179.08,185.82 179.36,182.61 179.64,184.21 179.92,182.19 180.20,182.36 180.48,185.05 180.76,184.76 181.04,182.37 181.32,181.80 181.60,181.82 181.88,184.19 182.16,183.65 182.44,182.61 182.72,182.27 183.00,184.12 183.28,184.51 183.56,184.94 183.84,183.84 184.12,182.04 184.40,181.37 184.68,184.39 184.96,182.85 185.24,184.25 185.52,181.13 185.80,184.56 186.08,182.33 186.36,184.61 186.64,184.67 186.92,182.91 187.20,180.67 187.48,184.74 187.76,182.70 188.04,184.47 188.32,181.64 188.60,181.22 188.88,184.15 189.16,181.96 189.44,180.98 189.72,181.89 190.00,182.87 190.20,180.12 190.28,182.46 190.56,181.99 190.84,182.19 191.12,180.26 191.40,182.87 191.68,183.21 191.96,183.32 192.24,180.69 192.52,182.36 192.80,180.73 193.08,182.31 193.36,179.01 193.64,182.62 193.92,182.87 194.20,180.64 194.48,180.60 194.76,180.56 195.04,180.47 195.32,177.97 195.50,182.25 195.60,178.80 195.88,178.51 196.16,178.05 196.44,178.64 196.72,181.15 197.00,177.44 197.28,177.65 197.56,180.33 197.84,177.92 198.12,177.01 198.40,179.59 198.68,179.39 198.96,179.05 199.24,179.79 199.52,176.93 199.80,180.37 200.00,179.60 200.08,176.55 200.36,177.06 200.64,178.92 200.92,179.10 201.20,178.23 201.48,177.66 201.76,179.11 202.04,178.03 202.32,180.27 202.60,181.66 202.88,178.53 203.16,180.74 203.44,181.93 203.72,178.59 203.90,182.66 204.00,183.39 204.28,180.27 204.56,180.64 204.84,183.33 205.12,181.63 205.40,181.02 205.68,184.48 205.96,183.67 206.24,181.21 206.52,180.80 206.80,181.55 207.08,182.33 207.36,185.78 207.64,184.89 207.92,185.72 208.20,185.31 208.48,185.69 208.76,181.10 209.04,184.06 209.32,186.88 209.60,186.92 209.88,182.98 209.90,184.03 210.16,185.10 210.44,183.27 210.72,184.06 211.00,181.08 211.28,183.05 211.56,183.26 211.84,180.15 212.12,180.64 212.40,185.41 212.68,184.04 212.96,184.79 213.24,182.75 213.52,183.59 213.80,183.83 214.08,183.62 214.36,178.30 214.64,181.73 214.92,179.27 215.20,181.53 215.48,178.88 215.76,180.28 215.80,182.55 216.04,180.61 216.32,178.24 216.60,179.72 216.88,179.06 217.16,182.03 217.44,177.91 217.72,177.87 218.00,179.79 218.28,176.48 218.56,179.19 218.84,181.22 219.12,178.42 219.40,176.81 219.68,177.86 219.96,178.12 220.24,175.67 220.52,175.38 220.80,175.29 221.08,176.12 221.36,176.66 221.64,175.81 221.80,175.46 221.92,174.63 222.20,177.61 222.48,179.61 222.76,178.46 223.04,178.45 223.32,179.17 223.60,176.71 223.88,180.00 224.16,178.73 224.44,179.49 224.72,180.11 225.00,179.29 225.28,177.63 225.56,177.04 225.84,177.03 226.12,180.75 226.40,179.43 226.68,182.09 226.96,175.44 227.24,179.77 227.52,186.11 227.80,178.86 228.08,182.78 228.36,182.10 228.64,179.73 228.92,188.26 229.20,180.06 229.48,185.88 229.76,178.62 230.04,177.62 230.32,187.38 230.60,182.31 230.88,177.87 231.16,181.89 231.44,182.61 231.72,186.26 232.00,178.85 232.28,180.34 232.56,189.25 232.84,186.71 233.12,179.80 233.40,182.09 233.68,182.38 233.96,186.36 234.24,185.75 234.52,188.66 234.80,188.42 234.90,184.81 235.08,187.49 235.36,187.57 235.64,187.80 235.92,184.42 236.20,188.16 236.48,187.28 236.76,189.78 237.04,180.37 237.32,189.32 237.60,178.95 237.88,188.12 238.16,185.99 238.44,184.97 238.72,190.58 239.00,185.92 239.28,184.10 239.56,188.52 239.84,189.62 240.12,186.47 240.40,183.77 240.68,184.67 240.96,184.77 241.24,187.98 241.52,182.85 241.80,184.05 242.08,186.06 242.10,184.01 242.36,183.31 242.64,188.95 242.92,189.75 243.20,185.61 243.48,185.00 243.76,181.93 244.04,183.43 244.32,181.57 244.60,186.79 244.88,186.92 245.16,181.05 245.44,191.09 245.72,183.99 246.00,190.28 246.28,190.27 246.56,191.77 246.84,182.77 247.12,185.49 247.40,191.36 247.68,180.61 247.96,181.11 248.24,187.37 248.52,186.62 248.80,191.75 249.08,190.04 249.30,187.26 249.36,192.78 249.64,187.02 249.92,187.02 250.20,189.05 250.48,185.51 250.76,185.13 251.04,187.99 251.32,185.07 251.60,192.24 251.88,188.99 252.16,187.18 252.44,182.08 252.72,185.39 253.00,185.71 253.28,187.65 253.56,187.81 253.84,191.49 254.12,192.51 254.40,186.78 254.68,186.23 254.96,188.45 255.24,192.92 255.52,185.09 255.80,187.34 256.08,190.78 256.36,183.05 256.40,184.82 256.64,192.75 256.92,190.94 257.20,187.19 257.48,182.38 257.76,191.80 258.04,189.36 258.32,190.94 258.60,192.99 258.88,191.77 259.16,186.18 259.44,183.02 259.72,184.63 260.00,187.31 260.28,187.24 260.56,183.45 260.84,183.40 261.12,188.78 261.40,188.47 261.68,185.49 261.96,193.19 262.24,188.91 262.52,181.79 262.80,186.24 263.08,190.73 263.36,184.94 263.64,189.53 263.92,181.27 264.20,184.86 264.48,191.30 264.76,188.21 265.04,189.17 265.32,183.49 265.60,187.09 265.88,187.74 266.16,184.27 266.44,188.82 266.72,187.42 267.00,192.99 267.28,187.90 267.56,185.92 267.84,182.43 268.12,182.83 268.40,190.05 268.68,182.19 268.96,182.10 269.24,182.92 269.52,187.13 269.80,190.72 270.08,188.18 270.36,190.48 270.40,181.55 270.64,180.99 270.92,190.14 271.20,184.82 271.48,189.59 271.76,185.30 272.04,183.14 272.32,184.36 272.60,182.41 272.88,192.11 273.16,188.30 273.44,185.56 273.72,186.82 274.00,186.10 274.28,182.18 274.56,192.27 274.84,188.62 275.12,193.20 275.40,187.01 275.68,189.23 275.96,184.83 276.24,182.42 276.52,193.12 276.80,192.26 277.08,188.66 277.36,189.79 277.64,190.52 277.92,190.98 278.10,191.66 278.20,192.23 278.48,192.93 278.76,194.19 279.04,194.75 279.32,195.83 279.60,197.01 279.88,197.70 280.16,198.74 280.44,200.06 280.60,200.39 280.72,200.95 281.00,201.48 281.28,202.30 281.56,203.27 281.84,204.03 282.12,205.36 282.40,205.82 282.68,206.84 282.96,207.44 283.10,208.12 283.24,208.44 283.52,209.27 283.80,209.89 284.08,210.74 284.36,211.98 284.64,212.51 284.92,213.27 285.20,214.05 285.48,214.93 285.70,215.54 285.76,215.57 286.04,216.66 286.32,217.17 286.60,217.76 286.88,218.80 287.16,219.13 287.44,219.95 287.72,220.99 288.00,221.27 288.20,221.97 288.28,222.20 288.56,222.18 288.84,221.80 289.12,221.91 289.40,222.13 289.68,221.93 289.96,222.28 290.24,221.82 290.52,222.27 290.80,222.00 291.08,221.84 291.36,221.97 291.64,221.78 291.92,222.12 292.20,221.86 292.48,222.24 292.76,222.05 293.04,221.92 293.32,221.85 293.60,222.06 293.88,221.83 294.16,222.22 294.44,221.77 294.72,222.01 295.00,222.03 295.28,221.86 295.56,222.16 295.84,221.93 296.12,222.09 296.40,222.04 296.68,221.89 296.96,221.93 297.24,221.75 297.52,221.81 297.80,222.21 298.08,221.89 298.36,222.10 298.64,221.77 298.92,222.04 299.20,221.92 299.48,222.00 299.76,221.88 300.04,221.74 300.32,221.89 300.60,221.84 300.88,221.78 301.16,222.13 301.44,221.87 301.72,221.94 302.00,222.25 302.28,222.16 302.56,222.23 302.84,222.22 303.12,221.78 303.40,221.87 303.68,221.72 303.96,222.11 304.24,222.10 304.52,221.91 304.80,221.95 305.08,222.10 305.36,222.12 305.64,221.85 305.92,222.21 306.20,221.91 306.48,222.08 306.76,221.81 307.04,221.77 307.32,222.25 307.60,222.14 307.88,222.13 308.16,221.72 308.44,221.72 308.72,221.80 309.00,221.82 309.28,221.88 309.56,221.93 309.84,221.72 310.12,221.89 310.40,222.08 310.68,221.81 310.96,222.20 311.24,222.04 311.52,222.13 311.80,221.85 312.08,221.96 312.36,222.11 312.64,221.91 312.92,221.70 313.20,222.20 313.48,222.17 313.76,221.87 314.04,221.73 314.32,222.21 314.60,222.06 314.88,221.73 315.16,221.85 315.44,221.77 315.72,222.17 316.00,221.83 316.28,222.25 316.56,222.15 316.84,221.75 317.12,222.12 317.40,221.94 317.68,222.15 317.96,222.20 318.24,221.87 318.52,221.75 318.80,222.27 319.08,221.95 319.36,222.26 319.64,222.11 319.92,222.14 320.20,222.20 320.48,222.08 320.76,221.97 321.04,221.73 321.32,222.12 321.60,221.96 321.88,222.01 322.16,222.26 322.44,221.78 322.50,222.16" fill="none" stroke="#f00" stroke-width="1.0" stroke-linejoin="round" />
<polyline points="29.00,222.50 29.50,222.50 30.00,222.50 30.50,222.50 31.00,222.50 31.50,222.50 32.00,222.50 32.50,222.50 33.00,222.50 33.50,222.50 34.00,222.50 34.50,222.50 35.00,222.50 35.50,222.50 36.00,222.50 36.50,222.50 37.00,222.50 37.50,222.50 38.00,222.50 38.50,222.50 39.00,222.50 39.50,222.50 40.00,222.50 40.50,222.50 41.00,222.50 41.50,222.50 42.00,222.50 42.50,222.50 43.00,222.50 43.50,222.50 44.00,222.50 44.50,222.50 45.00,222.50 45.50,222.50 46.00,222.50 46.50,222.50 47.00,222.50 47.50,222.50 48.00,222.50 48.50,222.50 49.00,222.50 49.50,222.50 50.00,222.50 50.50,222.50 51.00,222.50 51.50,222.50 52.00,222.50 52.50,222.50 53.00,222.50 53.50,222.50 54.00,222.50 54.50,222.50 55.00,222.50 55.50,222.50 56.00,222.50 56.50,222.50 57.00,222.50 57.50,222.50 58.00,222.50 58.50,222.50 59.00,222.50 59.50,222.50 60.00,222.50 60.50,222.50 61.00,222.50 61.50,222.50 62.00,222.50 62.50,222.50 63.00,222.50 63.50,222.50 64.00,222.50 64.50,222.50 65.00,222.50 65.30,222.50 65.40,209.10 65.50,209.10 66.00,209.10 66.50,208.82 67.00,209.22 67.50,209.41 68.00,209.48 68.40,208.80 68.50,209.38 69.00,209.53 69.50,209.57 70.00,209.31 70.50,209.30 71.00,209.99 71.50,209.65 71.90,209.78 72.00,209.97 72.50,209.93 73.00,210.47 73.50,210.07 74.00,210.01 74.30,210.56 74.50,210.55 75.00,210.55 75.50,210.29 76.00,210.30 76.50,210.17 77.00,209.59 77.50,209.43 77.90,208.99 78.00,209.09 78.50,209.17 79.00,208.56 79.50,208.94 80.00,208.30 80.50,208.38 81.00,208.69 81.50,207.73 82.00,207.54 82.50,207.75 83.00,207.38 83.50,207.72 84.00,206.92 84.50,207.53 85.00,207.40 85.50,207.19 86.00,206.72 86.30,206.50 86.50,206.79 87.00,206.53 87.50,206.32 88.00,206.12 88.50,206.08 89.00,206.16 89.50,206.18 90.00,206.12 90.50,205.33 91.00,205.32 91.50,205.22 92.00,205.10 92.50,204.68 93.00,204.32 93.50,204.00 94.00,203.98 94.50,203.88 95.00,204.11 95.20,203.97 95.50,203.95 96.00,204.09 96.50,204.12 97.00,203.86 97.50,204.07 98.00,203.44 98.50,204.03 99.00,204.01 99.50,203.78 100.00,204.06 100.50,204.28 101.00,203.72 101.50,203.74 102.00,203.30 102.50,203.21 103.00,203.57 103.50,202.66 104.00,202.68 104.50,202.99 105.00,202.65 105.50,202.19 106.00,202.58 106.50,202.19 107.00,202.25 107.50,201.97 108.00,201.94 108.50,201.84 109.00,201.56 109.50,201.18 109.60,201.21 110.00,201.73 110.50,201.28 111.00,200.74 111.50,201.27 112.00,200.57 112.50,200.28 113.00,200.53 113.50,200.13 114.00,200.19 114.50,200.10 115.00,199.66 115.50,199.83 116.00,199.27 116.50,199.48 117.00,199.40 117.50,198.79 118.00,198.94 118.50,198.49 119.00,198.68 119.10,199.03 119.50,198.62 120.00,198.62 120.50,198.51 121.00,197.78 121.50,198.42 122.00,198.02 122.50,197.31 123.00,197.82 123.50,197.27 124.00,196.92 124.50,197.48 125.00,196.97 125.50,197.01 126.00,196.29 126.50,196.71 127.00,195.92 127.50,195.93 128.00,195.90 128.50,195.42 128.70,195.88 129.00,195.48 129.50,195.46 130.00,195.73 130.50,195.38 131.00,195.70 131.50,195.36 132.00,195.48 132.50,195.11 133.00,195.33 133.50,195.19 134.00,194.46 134.50,194.88 135.00,194.42 135.50,194.70 135.80,194.56 136.00,194.68 136.50,194.01 137.00,194.20 137.50,194.50 138.00,194.65 138.50,194.41 139.00,193.77 139.50,194.24 140.00,193.75 140.50,194.12 141.00,194.31 141.50,193.66 142.00,194.35 142.50,194.09 143.00,193.68 143.50,193.66 144.00,193.92 144.50,194.31 145.00,194.11 145.50,193.73 146.00,193.68 146.50,193.80 147.00,194.45 147.50,193.93 148.00,194.30 148.50,194.10 149.00,194.49 149.50,194.25 150.00,193.82 150.10,195.00 150.50,194.62 151.00,195.06 151.50,195.45 152.00,195.87 152.50,194.57 153.00,195.30 153.50,195.19 154.00,195.95 154.50,196.74 154.90,196.78 155.00,195.58 155.50,195.91 156.00,197.02 156.50,196.89 157.00,196.53 157.50,196.44 158.00,195.70 158.50,196.58 159.00,195.63 159.50,196.17 160.00,195.52 160.50,194.44 161.00,194.62 161.50,194.22 162.00,195.08 162.10,194.54 162.50,193.59 163.00,193.70 163.50,193.92 164.00,193.99 164.50,194.07 165.00,193.68 165.50,193.53 166.00,192.88 166.50,193.70 166.90,193.23 167.00,192.76 167.50,193.63 168.00,194.63 168.50,193.28 169.00,193.60 169.50,194.60 170.00,194.12 170.50,194.28 171.00,194.80 171.30,194.52 171.50,195.05 172.00,195.07 172.50,195.85 173.00,195.99 173.50,194.55 174.00,195.48 174.50,195.91 175.00,196.16 175.50,196.10 176.00,195.96 176.50,196.05 177.00,195.71 177.50,195.67 178.00,196.58 178.50,196.80 179.00,196.87 179.50,196.43 180.00,195.79 180.50,196.49 181.00,196.42 181.50,196.02 182.00,196.19 182.50,195.71 183.00,196.00 183.50,195.73 184.00,195.15 184.50,195.56 184.80,195.52 185.00,196.50 185.50,195.49 186.00,195.10 186.50,194.70 187.00,194.48 187.50,194.46 188.00,193.92 188.50,193.51 189.00,194.69 189.50,193.81 190.00,193.60 190.50,193.59 190.70,193.08 191.00,193.02 191.50,193.09 192.00,193.71 192.50,193.96 193.00,194.87 193.50,194.84 194.00,195.69 194.50,194.98 195.00,196.15 195.50,195.85 196.00,195.29 196.50,195.69 196.70,196.43 197.00,197.06 197.50,196.02 198.00,196.65 198.50,196.06 199.00,196.73 199.50,195.41 200.00,196.05 200.50,196.67 201.00,195.64 201.50,195.58 202.00,195.17 202.50,195.36 203.00,195.49 203.50,196.15 203.90,195.35 204.00,195.62 204.50,195.18 205.00,195.71 205.50,196.01 206.00,195.55 206.50,194.71 207.00,195.45 207.50,195.70 208.00,195.00 208.50,194.05 209.00,195.11 209.50,195.09 209.90,194.15 210.00,193.80 210.50,193.80 211.00,194.27 211.50,194.73 212.00,194.27 212.50,194.64 213.00,193.41 213.50,193.51 214.00,194.10 214.50,193.86 215.00,193.38 215.50,193.74 215.80,193.14 216.00,192.83 216.50,193.74 217.00,193.49 217.50,194.76 218.00,194.64 218.50,195.24 219.00,195.74 219.50,195.54 220.00,196.21 220.50,195.83 221.00,197.63 221.50,197.40 221.80,198.28 222.00,196.66 222.50,197.24 223.00,197.11 223.50,196.16 224.00,195.47 224.50,195.26 225.00,194.93 225.50,196.33 226.00,195.64 226.50,197.20 227.00,196.98 227.50,197.56 228.00,197.92 228.50,198.14 229.00,198.59 229.50,198.77 230.00,198.62 230.20,199.39 230.50,198.41 231.00,198.80 231.50,198.55 232.00,198.24 232.50,197.16 233.00,197.57 233.20,197.76 233.50,196.78 234.00,196.25 234.50,196.39 235.00,196.81 235.50,195.26 236.00,194.81 236.20,195.46 236.50,195.62 237.00,195.60 237.50,194.73 238.00,195.52 238.50,194.09 239.00,194.73 239.50,193.45 240.00,193.14 240.50,193.10 240.70,192.90 241.00,193.87 241.50,194.39 242.00,194.74 242.30,195.00 242.50,195.91 243.00,198.20 243.50,200.49 243.70,201.40 244.00,202.85 244.50,205.25 244.80,206.70 245.00,207.25 245.50,208.63 246.00,210.01 246.50,211.40 246.90,212.50 247.00,212.72 247.50,213.82 248.00,214.93 248.50,216.03 249.00,217.14 249.30,217.80 249.50,218.10 250.00,218.87 250.50,219.63 251.00,220.39 251.50,221.15 251.60,221.30 252.00,221.61 252.50,222.00 253.00,222.00 253.50,222.00 254.00,222.00 254.50,222.00 255.00,222.00 255.50,222.00 256.00,222.00 256.50,222.00 257.00,222.00 257.50,222.00 258.00,222.00 258.50,222.00 259.00,222.00 259.50,222.00 260.00,222.00 260.50,222.00 261.00,222.00 261.50,222.00 262.00,222.00 262.50,222.00 263.00,222.00 263.50,222.00 264.00,222.00 264.50,222.00 265.00,222.00 265.50,222.00 266.00,222.00 266.50,222.00 267.00,222.00 267.50,222.00 268.00,222.00 268.50,222.00 269.00,222.00 269.50,222.00 270.00,222.00 270.50,222.00 271.00,222.00 271.50,222.00 272.00,222.00 272.50,222.00 273.00,222.00 273.50,222.00 274.00,222.00 274.50,222.00 275.00,222.00 275.50,222.00 276.00,222.00 276.50,222.00 277.00,222.00 277.50,222.00 278.00,222.00 278.50,222.00 279.00,222.00 279.50,222.00 280.00,222.00 280.50,222.00 281.00,222.00 281.50,222.00 282.00,222.00 282.50,222.00 283.00,222.00 283.50,222.00 284.00,222.00 284.50,222.00 285.00,222.00 285.50,222.00 286.00,222.00 286.50,222.00 287.00,222.00 287.50,222.00 288.00,222.00 288.50,222.00 289.00,222.00 289.50,222.00 290.00,222.00 290.50,222.00 291.00,222.00 291.50,222.00 292.00,222.00 292.50,222.00 293.00,222.00 293.50,222.00 294.00,222.00 294.50,222.00 295.00,222.00 295.50,222.00 296.00,222.00 296.50,222.00 297.00,222.00 297.50,222.00 298.00,222.00 298.50,222.00 299.00,222.00 299.50,222.00 300.00,222.00 300.50,222.00 301.00,222.00 301.50,222.00 302.00,222.00 302.50,222.00 303.00,222.00 303.50,222.00 304.00,222.00 304.50,222.00 305.00,222.00 305.50,222.00 306.00,222.00 306.50,222.00 307.00,222.00 307.50,222.00 308.00,222.00 308.50,222.00 309.00,222.00 309.50,222.00 310.00,222.00 310.50,222.00 311.00,222.00 311.50,222.00 312.00,222.00 312.50,222.00 313.00,222.00 313.50,222.00 314.00,222.00 314.50,222.00 315.00,222.00 315.50,222.00 316.00,222.00 316.50,222.00 317.00,222.00 317.50,222.00 318.00,222.00 318.50,222.00 319.00,222.00 319.50,222.00 320.00,222.00 320.50,222.00 321.00,222.00 321.50,222.00 322.00,222.00 322.50,222.00" fill="none" stroke="#000" stroke-width="1.1" stroke-linejoin="round" />
<path d="M233.8,196.70V199.9" stroke="#000" stroke-width="0.6"/><path d="M236.2,195.50V201.8" stroke="#000" stroke-width="0.9"/><path d="M238.4,194.57V197.9" stroke="#000" stroke-width="0.8"/>
<polyline points="121.60,260.40 144.20,251.20 151.60,247.50 159.10,247.20 166.30,247.20 173.40,249.00 180.60,248.40 188.30,247.90 195.80,249.30 203.00,249.30 211.00,249.30 218.20,250.60 224.50,251.10 231.60,251.50 238.80,252.60 246.50,252.00 254.00,252.60 261.20,252.60 268.70,252.90 276.50,252.90 283.80,253.30 291.00,253.30 298.10,252.40 305.30,251.10 313.40,249.30 321.40,247.90 322.50,247.70" fill="none" stroke="#f00" stroke-width="1.1" stroke-linejoin="round" />
<path d="M120.30,260.40H122.90M121.60,259.10V261.70M142.90,251.20H145.50M144.20,249.90V252.50M150.30,247.50H152.90M151.60,246.20V248.80M157.80,247.20H160.40M159.10,245.90V248.50M165.00,247.20H167.60M166.30,245.90V248.50M172.10,249.00H174.70M173.40,247.70V250.30M179.30,248.40H181.90M180.60,247.10V249.70M187.00,247.90H189.60M188.30,246.60V249.20M194.50,249.30H197.10M195.80,248.00V250.60M201.70,249.30H204.30M203.00,248.00V250.60M209.70,249.30H212.30M211.00,248.00V250.60M216.90,250.60H219.50M218.20,249.30V251.90M223.20,251.10H225.80M224.50,249.80V252.40M230.30,251.50H232.90M231.60,250.20V252.80M237.50,252.60H240.10M238.80,251.30V253.90M245.20,252.00H247.80M246.50,250.70V253.30M252.70,252.60H255.30M254.00,251.30V253.90M259.90,252.60H262.50M261.20,251.30V253.90M267.40,252.90H270.00M268.70,251.60V254.20M275.20,252.90H277.80M276.50,251.60V254.20M282.50,253.30H285.10M283.80,252.00V254.60M289.70,253.30H292.30M291.00,252.00V254.60M296.80,252.40H299.40M298.10,251.10V253.70M304.00,251.10H306.60M305.30,249.80V252.40M312.10,249.30H314.70M313.40,248.00V250.60M320.10,247.90H322.70M321.40,246.60V249.20" stroke="#f00" stroke-width="1.0" fill="none"/>
<polyline points="107.20,244.00 114.30,244.00 121.90,242.70 129.50,244.10 136.60,244.50 144.10,245.10 151.60,244.40 159.10,244.50 166.30,244.30 173.40,244.30 180.60,243.20 188.30,244.50 195.80,245.00 203.00,245.00 211.00,246.10 218.20,246.60 224.50,246.60 231.60,247.20 238.80,249.00 246.50,249.30 254.00,249.30 261.20,249.00 268.70,248.20 276.50,246.60 283.80,245.20" fill="none" stroke="#000" stroke-width="1.1" stroke-linejoin="round" />
<path d="M105.90,244.00H108.50M107.20,242.70V245.30M113.00,244.00H115.60M114.30,242.70V245.30M120.60,242.70H123.20M121.90,241.40V244.00M128.20,244.10H130.80M129.50,242.80V245.40M135.30,244.50H137.90M136.60,243.20V245.80M142.80,245.10H145.40M144.10,243.80V246.40M150.30,244.40H152.90M151.60,243.10V245.70M157.80,244.50H160.40M159.10,243.20V245.80M165.00,244.30H167.60M166.30,243.00V245.60M172.10,244.30H174.70M173.40,243.00V245.60M179.30,243.20H181.90M180.60,241.90V244.50M187.00,244.50H189.60M188.30,243.20V245.80M194.50,245.00H197.10M195.80,243.70V246.30M201.70,245.00H204.30M203.00,243.70V246.30M209.70,246.10H212.30M211.00,244.80V247.40M216.90,246.60H219.50M218.20,245.30V247.90M223.20,246.60H225.80M224.50,245.30V247.90M230.30,247.20H232.90M231.60,245.90V248.50M237.50,249.00H240.10M238.80,247.70V250.30M245.20,249.30H247.80M246.50,248.00V250.60M252.70,249.30H255.30M254.00,248.00V250.60M259.90,249.00H262.50M261.20,247.70V250.30M267.40,248.20H270.00M268.70,246.90V249.50M275.20,246.60H277.80M276.50,245.30V247.90M282.50,245.20H285.10M283.80,243.90V246.50" stroke="#000" stroke-width="1.0" fill="none"/>
<polyline points="121.70,289.20 144.10,325.00 150.80,310.40 166.10,289.10 173.30,286.10 180.40,284.80 188.00,283.00 195.70,283.00 202.80,283.70 210.40,285.50 217.50,288.40 224.70,287.90 231.90,287.00 239.40,289.60 247.10,290.90 254.30,292.30 261.40,293.20 268.70,293.90 276.50,294.50 283.70,294.50 290.70,293.10 298.80,301.30 305.60,310.00 312.80,314.50 322.10,314.50 322.50,314.50" fill="none" stroke="#f00" stroke-width="1.1" stroke-linejoin="round" />
<path d="M120.40,289.20H123.00M121.70,287.90V290.50M142.80,325.00H145.40M144.10,323.70V326.30M149.50,310.40H152.10M150.80,309.10V311.70M164.80,289.10H167.40M166.10,287.80V290.40M172.00,286.10H174.60M173.30,284.80V287.40M179.10,284.80H181.70M180.40,283.50V286.10M186.70,283.00H189.30M188.00,281.70V284.30M194.40,283.00H197.00M195.70,281.70V284.30M201.50,283.70H204.10M202.80,282.40V285.00M209.10,285.50H211.70M210.40,284.20V286.80M216.20,288.40H218.80M217.50,287.10V289.70M223.40,287.90H226.00M224.70,286.60V289.20M230.60,287.00H233.20M231.90,285.70V288.30M238.10,289.60H240.70M239.40,288.30V290.90M245.80,290.90H248.40M247.10,289.60V292.20M253.00,292.30H255.60M254.30,291.00V293.60M260.10,293.20H262.70M261.40,291.90V294.50M267.40,293.90H270.00M268.70,292.60V295.20M275.20,294.50H277.80M276.50,293.20V295.80M282.40,294.50H285.00M283.70,293.20V295.80M289.40,293.10H292.00M290.70,291.80V294.40M297.50,301.30H300.10M298.80,300.00V302.60M304.30,310.00H306.90M305.60,308.70V311.30M311.50,314.50H314.10M312.80,313.20V315.80M320.80,314.50H323.40M322.10,313.20V315.80" stroke="#f00" stroke-width="1.0" fill="none"/>
<polyline points="107.20,286.60 114.70,295.90 121.70,296.00 129.20,303.20 136.60,302.00 144.10,301.70 151.60,301.40 158.20,302.40 165.80,300.90 173.30,303.40 180.40,300.40 188.00,300.40 195.70,302.20 202.80,299.90 210.40,297.30 217.50,296.80 224.70,294.10 231.90,294.50 239.40,293.20 247.10,289.60 254.30,292.30 261.80,289.00 268.70,296.40 275.90,307.50 283.70,314.30" fill="none" stroke="#000" stroke-width="1.1" stroke-linejoin="round" />
<path d="M105.90,286.60H108.50M107.20,285.30V287.90M113.40,295.90H116.00M114.70,294.60V297.20M120.40,296.00H123.00M121.70,294.70V297.30M127.90,303.20H130.50M129.20,301.90V304.50M135.30,302.00H137.90M136.60,300.70V303.30M142.80,301.70H145.40M144.10,300.40V303.00M150.30,301.40H152.90M151.60,300.10V302.70M156.90,302.40H159.50M158.20,301.10V303.70M164.50,300.90H167.10M165.80,299.60V302.20M172.00,303.40H174.60M173.30,302.10V304.70M179.10,300.40H181.70M180.40,299.10V301.70M186.70,300.40H189.30M188.00,299.10V301.70M194.40,302.20H197.00M195.70,300.90V303.50M201.50,299.90H204.10M202.80,298.60V301.20M209.10,297.30H211.70M210.40,296.00V298.60M216.20,296.80H218.80M217.50,295.50V298.10M223.40,294.10H226.00M224.70,292.80V295.40M230.60,294.50H233.20M231.90,293.20V295.80M238.10,293.20H240.70M239.40,291.90V294.50M245.80,289.60H248.40M247.10,288.30V290.90M253.00,292.30H255.60M254.30,291.00V293.60M260.50,289.00H263.10M261.80,287.70V290.30M267.40,296.40H270.00M268.70,295.10V297.70M274.60,307.50H277.20M275.90,306.20V308.80M282.40,314.30H285.00M283.70,313.00V315.60" stroke="#000" stroke-width="1.0" fill="none"/>
</g>
<g><path d="M29,55.000h6M322,55.000h-5.5M29,46.500h6M322,46.500h-5.5M29,38.000h6M322,38.000h-5.5M29,29.500h6M322,29.500h-5.5M29,21.000h6M322,21.000h-5.5" stroke="#000" stroke-width="1"/><path d="M29,61.375h3M322,61.375h-2.5M29,59.250h3M322,59.250h-2.5M29,57.125h3M322,57.125h-2.5M29,52.875h3M322,52.875h-2.5M29,50.750h3M322,50.750h-2.5M29,48.625h3M322,48.625h-2.5M29,44.375h3M322,44.375h-2.5M29,42.250h3M322,42.250h-2.5M29,40.125h3M322,40.125h-2.5M29,35.875h3M322,35.875h-2.5M29,33.750h3M322,33.750h-2.5M29,31.625h3M322,31.625h-2.5M29,27.375h3M322,27.375h-2.5M29,25.250h3M322,25.250h-2.5M29,23.125h3M322,23.125h-2.5M29,18.875h3M322,18.875h-2.5M29,16.750h3M322,16.750h-2.5M29,14.625h3M322,14.625h-2.5" stroke="#000" stroke-width="1"/><path d="M29,106.300h6M322,106.300h-5.5M29,96.100h6M322,96.100h-5.5M29,85.900h6M322,85.900h-5.5M29,75.700h6M322,75.700h-5.5" stroke="#000" stroke-width="1"/><path d="M29,113.950h3M322,113.950h-2.5M29,111.400h3M322,111.400h-2.5M29,108.850h3M322,108.850h-2.5M29,103.750h3M322,103.750h-2.5M29,101.200h3M322,101.200h-2.5M29,98.650h3M322,98.650h-2.5M29,93.550h3M322,93.550h-2.5M29,91.000h3M322,91.000h-2.5M29,88.450h3M322,88.450h-2.5M29,83.350h3M322,83.350h-2.5M29,80.800h3M322,80.800h-2.5M29,78.250h3M322,78.250h-2.5M29,73.150h3M322,73.150h-2.5M29,70.600h3M322,70.600h-2.5M29,68.050h3M322,68.050h-2.5" stroke="#000" stroke-width="1"/><path d="M29,156.800h6M322,156.800h-5.5M29,144.100h6M322,144.100h-5.5M29,131.400h6M322,131.400h-5.5" stroke="#000" stroke-width="1"/><path d="M29,166.325h3M322,166.325h-2.5M29,163.150h3M322,163.150h-2.5M29,159.975h3M322,159.975h-2.5M29,153.625h3M322,153.625h-2.5M29,150.450h3M322,150.450h-2.5M29,147.275h3M322,147.275h-2.5M29,140.925h3M322,140.925h-2.5M29,137.750h3M322,137.750h-2.5M29,134.575h3M322,134.575h-2.5M29,128.225h3M322,128.225h-2.5M29,125.050h3M322,125.050h-2.5M29,121.875h3M322,121.875h-2.5" stroke="#000" stroke-width="1"/><path d="M29,209.750h6M322,209.750h-5.5M29,197.000h6M322,197.000h-5.5M29,184.250h6M322,184.250h-5.5" stroke="#000" stroke-width="1"/><path d="M29,219.312h3M322,219.312h-2.5M29,216.125h3M322,216.125h-2.5M29,212.938h3M322,212.938h-2.5M29,206.562h3M322,206.562h-2.5M29,203.375h3M322,203.375h-2.5M29,200.188h3M322,200.188h-2.5M29,193.812h3M322,193.812h-2.5M29,190.625h3M322,190.625h-2.5M29,187.438h3M322,187.438h-2.5M29,181.062h3M322,181.062h-2.5M29,177.875h3M322,177.875h-2.5M29,174.688h3M322,174.688h-2.5" stroke="#000" stroke-width="1"/><path d="M29,262.875h6M322,262.875h-5.5M29,250.250h6M322,250.250h-5.5M29,237.625h6M322,237.625h-5.5" stroke="#000" stroke-width="1"/><path d="M29,274.238h3M322,274.238h-2.5M29,272.975h3M322,272.975h-2.5M29,271.712h3M322,271.712h-2.5M29,270.450h3M322,270.450h-2.5M29,269.188h3M322,269.188h-2.5M29,267.925h3M322,267.925h-2.5M29,266.663h3M322,266.663h-2.5M29,265.400h3M322,265.400h-2.5M29,264.137h3M322,264.137h-2.5M29,261.613h3M322,261.613h-2.5M29,260.350h3M322,260.350h-2.5M29,259.087h3M322,259.087h-2.5M29,257.825h3M322,257.825h-2.5M29,256.562h3M322,256.562h-2.5M29,255.300h3M322,255.300h-2.5M29,254.037h3M322,254.037h-2.5M29,252.775h3M322,252.775h-2.5M29,251.512h3M322,251.512h-2.5M29,248.988h3M322,248.988h-2.5M29,247.725h3M322,247.725h-2.5M29,246.463h3M322,246.463h-2.5M29,245.200h3M322,245.200h-2.5M29,243.938h3M322,243.938h-2.5M29,242.675h3M322,242.675h-2.5M29,241.412h3M322,241.412h-2.5M29,240.150h3M322,240.150h-2.5M29,238.887h3M322,238.887h-2.5M29,236.363h3M322,236.363h-2.5M29,235.100h3M322,235.100h-2.5M29,233.838h3M322,233.838h-2.5M29,232.575h3M322,232.575h-2.5M29,231.312h3M322,231.312h-2.5M29,230.050h3M322,230.050h-2.5M29,228.788h3M322,228.788h-2.5M29,227.525h3M322,227.525h-2.5M29,226.262h3M322,226.262h-2.5" stroke="#000" stroke-width="0.75"/><path d="M29,315.725h6M322,315.725h-5.5M29,302.950h6M322,302.950h-5.5M29,290.175h6M322,290.175h-5.5" stroke="#000" stroke-width="1"/><path d="M29,325.945h3M322,325.945h-2.5M29,323.390h3M322,323.390h-2.5M29,320.835h3M322,320.835h-2.5M29,318.280h3M322,318.280h-2.5M29,313.170h3M322,313.170h-2.5M29,310.615h3M322,310.615h-2.5M29,308.060h3M322,308.060h-2.5M29,305.505h3M322,305.505h-2.5M29,300.395h3M322,300.395h-2.5M29,297.840h3M322,297.840h-2.5M29,295.285h3M322,295.285h-2.5M29,292.730h3M322,292.730h-2.5M29,287.620h3M322,287.620h-2.5M29,285.065h3M322,285.065h-2.5M29,282.510h3M322,282.510h-2.5M29,279.955h3M322,279.955h-2.5" stroke="#000" stroke-width="1"/><path d="M40.75,63.5v-0.8M40.75,12.5v0.8M53.00,63.5v-0.8M53.00,12.5v0.8M65.25,63.5v-0.8M65.25,12.5v0.8M77.50,63.5v-1.4M77.50,12.5v1.4M89.75,63.5v-0.8M89.75,12.5v0.8M102.00,63.5v-0.8M102.00,12.5v0.8M114.25,63.5v-0.8M114.25,12.5v0.8M126.50,63.5v-1.4M126.50,12.5v1.4M138.75,63.5v-0.8M138.75,12.5v0.8M151.00,63.5v-0.8M151.00,12.5v0.8M163.25,63.5v-0.8M163.25,12.5v0.8M175.50,63.5v-1.4M175.50,12.5v1.4M187.75,63.5v-0.8M187.75,12.5v0.8M200.00,63.5v-0.8M200.00,12.5v0.8M212.25,63.5v-0.8M212.25,12.5v0.8M224.50,63.5v-1.4M224.50,12.5v1.4M236.75,63.5v-0.8M236.75,12.5v0.8M249.00,63.5v-0.8M249.00,12.5v0.8M261.25,63.5v-0.8M261.25,12.5v0.8M273.50,63.5v-1.4M273.50,12.5v1.4M285.75,63.5v-0.8M285.75,12.5v0.8M298.00,63.5v-0.8M298.00,12.5v0.8M310.25,63.5v-0.8M310.25,12.5v0.8M40.75,116.5v-0.8M40.75,65.5v0.8M53.00,116.5v-0.8M53.00,65.5v0.8M65.25,116.5v-0.8M65.25,65.5v0.8M77.50,116.5v-1.4M77.50,65.5v1.4M89.75,116.5v-0.8M89.75,65.5v0.8M102.00,116.5v-0.8M102.00,65.5v0.8M114.25,116.5v-0.8M114.25,65.5v0.8M126.50,116.5v-1.4M126.50,65.5v1.4M138.75,116.5v-0.8M138.75,65.5v0.8M151.00,116.5v-0.8M151.00,65.5v0.8M163.25,116.5v-0.8M163.25,65.5v0.8M175.50,116.5v-1.4M175.50,65.5v1.4M187.75,116.5v-0.8M187.75,65.5v0.8M200.00,116.5v-0.8M200.00,65.5v0.8M212.25,116.5v-0.8M212.25,65.5v0.8M224.50,116.5v-1.4M224.50,65.5v1.4M236.75,116.5v-0.8M236.75,65.5v0.8M249.00,116.5v-0.8M249.00,65.5v0.8M261.25,116.5v-0.8M261.25,65.5v0.8M273.50,116.5v-1.4M273.50,65.5v1.4M285.75,116.5v-0.8M285.75,65.5v0.8M298.00,116.5v-0.8M298.00,65.5v0.8M310.25,116.5v-0.8M310.25,65.5v0.8M40.75,169.5v-0.8M40.75,118.7v0.8M53.00,169.5v-0.8M53.00,118.7v0.8M65.25,169.5v-0.8M65.25,118.7v0.8M77.50,169.5v-1.4M77.50,118.7v1.4M89.75,169.5v-0.8M89.75,118.7v0.8M102.00,169.5v-0.8M102.00,118.7v0.8M114.25,169.5v-0.8M114.25,118.7v0.8M126.50,169.5v-1.4M126.50,118.7v1.4M138.75,169.5v-0.8M138.75,118.7v0.8M151.00,169.5v-0.8M151.00,118.7v0.8M163.25,169.5v-0.8M163.25,118.7v0.8M175.50,169.5v-1.4M175.50,118.7v1.4M187.75,169.5v-0.8M187.75,118.7v0.8M200.00,169.5v-0.8M200.00,118.7v0.8M212.25,169.5v-0.8M212.25,118.7v0.8M224.50,169.5v-1.4M224.50,118.7v1.4M236.75,169.5v-0.8M236.75,118.7v0.8M249.00,169.5v-0.8M249.00,118.7v0.8M261.25,169.5v-0.8M261.25,118.7v0.8M273.50,169.5v-1.4M273.50,118.7v1.4M285.75,169.5v-0.8M285.75,118.7v0.8M298.00,169.5v-0.8M298.00,118.7v0.8M310.25,169.5v-0.8M310.25,118.7v0.8M40.75,222.5v-0.8M40.75,171.5v0.8M53.00,222.5v-0.8M53.00,171.5v0.8M65.25,222.5v-0.8M65.25,171.5v0.8M77.50,222.5v-1.4M77.50,171.5v1.4M89.75,222.5v-0.8M89.75,171.5v0.8M102.00,222.5v-0.8M102.00,171.5v0.8M114.25,222.5v-0.8M114.25,171.5v0.8M126.50,222.5v-1.4M126.50,171.5v1.4M138.75,222.5v-0.8M138.75,171.5v0.8M151.00,222.5v-0.8M151.00,171.5v0.8M163.25,222.5v-0.8M163.25,171.5v0.8M175.50,222.5v-1.4M175.50,171.5v1.4M187.75,222.5v-0.8M187.75,171.5v0.8M200.00,222.5v-0.8M200.00,171.5v0.8M212.25,222.5v-0.8M212.25,171.5v0.8M224.50,222.5v-1.4M224.50,171.5v1.4M236.75,222.5v-0.8M236.75,171.5v0.8M249.00,222.5v-0.8M249.00,171.5v0.8M261.25,222.5v-0.8M261.25,171.5v0.8M273.50,222.5v-1.4M273.50,171.5v1.4M285.75,222.5v-0.8M285.75,171.5v0.8M298.00,222.5v-0.8M298.00,171.5v0.8M310.25,222.5v-0.8M310.25,171.5v0.8M40.75,275.5v-0.8M40.75,225.0v0.8M53.00,275.5v-0.8M53.00,225.0v0.8M65.25,275.5v-0.8M65.25,225.0v0.8M77.50,275.5v-1.4M77.50,225.0v1.4M89.75,275.5v-0.8M89.75,225.0v0.8M102.00,275.5v-0.8M102.00,225.0v0.8M114.25,275.5v-0.8M114.25,225.0v0.8M126.50,275.5v-1.4M126.50,225.0v1.4M138.75,275.5v-0.8M138.75,225.0v0.8M151.00,275.5v-0.8M151.00,225.0v0.8M163.25,275.5v-0.8M163.25,225.0v0.8M175.50,275.5v-1.4M175.50,225.0v1.4M187.75,275.5v-0.8M187.75,225.0v0.8M200.00,275.5v-0.8M200.00,225.0v0.8M212.25,275.5v-0.8M212.25,225.0v0.8M224.50,275.5v-1.4M224.50,225.0v1.4M236.75,275.5v-0.8M236.75,225.0v0.8M249.00,275.5v-0.8M249.00,225.0v0.8M261.25,275.5v-0.8M261.25,225.0v0.8M273.50,275.5v-1.4M273.50,225.0v1.4M285.75,275.5v-0.8M285.75,225.0v0.8M298.00,275.5v-0.8M298.00,225.0v0.8M310.25,275.5v-0.8M310.25,225.0v0.8M40.75,328.5v-0.8M40.75,277.4v0.8M53.00,328.5v-0.8M53.00,277.4v0.8M65.25,328.5v-0.8M65.25,277.4v0.8M77.50,328.5v-1.4M77.50,277.4v1.4M89.75,328.5v-0.8M89.75,277.4v0.8M102.00,328.5v-0.8M102.00,277.4v0.8M114.25,328.5v-0.8M114.25,277.4v0.8M126.50,328.5v-1.4M126.50,277.4v1.4M138.75,328.5v-0.8M138.75,277.4v0.8M151.00,328.5v-0.8M151.00,277.4v0.8M163.25,328.5v-0.8M163.25,277.4v0.8M175.50,328.5v-1.4M175.50,277.4v1.4M187.75,328.5v-0.8M187.75,277.4v0.8M200.00,328.5v-0.8M200.00,277.4v0.8M212.25,328.5v-0.8M212.25,277.4v0.8M224.50,328.5v-1.4M224.50,277.4v1.4M236.75,328.5v-0.8M236.75,277.4v0.8M249.00,328.5v-0.8M249.00,277.4v0.8M261.25,328.5v-0.8M261.25,277.4v0.8M273.50,328.5v-1.4M273.50,277.4v1.4M285.75,328.5v-0.8M285.75,277.4v0.8M298.00,328.5v-0.8M298.00,277.4v0.8M310.25,328.5v-0.8M310.25,277.4v0.8" stroke="#000" stroke-width="0.8"/></g>
<path d="M29,12.5H323M29,63.5H323M322.5,12.5V63.5" fill="none" stroke="#000" stroke-width="1"/><path d="M28.5,12.5V63.5" stroke="#000" stroke-opacity="0.55" stroke-width="1"/><path d="M29,65.5H323M29,116.5H323M322.5,65.5V116.5" fill="none" stroke="#000" stroke-width="1"/><path d="M28.5,65.5V116.5" stroke="#000" stroke-opacity="0.55" stroke-width="1"/><path d="M29,118.7H323M29,169.5H323M322.5,118.7V169.5" fill="none" stroke="#000" stroke-width="1"/><path d="M28.5,118.7V169.5" stroke="#000" stroke-opacity="0.55" stroke-width="1"/><path d="M29,171.5H323M29,222.5H323M322.5,171.5V222.5" fill="none" stroke="#000" stroke-width="1"/><path d="M28.5,171.5V222.5" stroke="#000" stroke-opacity="0.55" stroke-width="1"/><path d="M29,225.0H323M29,275.5H323M322.5,225.0V275.5" fill="none" stroke="#000" stroke-width="1"/><path d="M28.5,225.0V275.5" stroke="#000" stroke-opacity="0.55" stroke-width="1"/><path d="M29,277.4H323M29,328.5H323M322.5,277.4V328.5" fill="none" stroke="#000" stroke-width="1"/><path d="M28.5,277.4V328.5" stroke="#000" stroke-opacity="0.55" stroke-width="1"/>
<g class="tx">
<text x="119.6" y="9.3" font-size="11" text-anchor="start" textLength="110.2" lengthAdjust="spacingAndGlyphs">SN134575, SN132779</text>
<text x="38.4" y="22.2" font-size="11.3" text-anchor="start" textLength="103.3" lengthAdjust="spacingAndGlyphs">Plasma Current [kA]</text>
<text x="35.2" y="76.1" font-size="11.3" text-anchor="start" textLength="82.3" lengthAdjust="spacingAndGlyphs">Toroidal field [T]</text>
<text x="35.4" y="129.1" font-size="11.3" text-anchor="start" textLength="80.4" lengthAdjust="spacingAndGlyphs">Vertical field [T]</text>
<text x="35.0" y="183.2" font-size="11.3" text-anchor="start" textLength="76.4" lengthAdjust="spacingAndGlyphs">LH power [kW]</text>
<text x="36.3" y="235.3" font-size="11.3" text-anchor="start" textLength="83.2" lengthAdjust="spacingAndGlyphs">Major radius [m]</text>
<text x="35.8" y="288.3" font-size="11.3" text-anchor="start" textLength="61.6" lengthAdjust="spacingAndGlyphs">Z center [m]</text>
<text transform="translate(26.9,17.63) scale(1.12,1)" font-size="10" text-anchor="end">12</text>
<text transform="translate(26.9,33.18) scale(1.12,1)" font-size="10" text-anchor="end">8</text>
<text transform="translate(26.9,50.98) scale(1.12,1)" font-size="10" text-anchor="end">4</text>
<text transform="translate(26.9,64.98) scale(1.12,1)" font-size="10" text-anchor="end">0</text>
<text transform="translate(26.9,78.88) scale(1.12,1)" font-size="10" text-anchor="end">0.08</text>
<text transform="translate(26.9,99.98) scale(1.12,1)" font-size="10" text-anchor="end">0.04</text>
<text transform="translate(26.9,117.88) scale(1.12,1)" font-size="10" text-anchor="end">0.00</text>
<text transform="translate(26.9,126.18) scale(1.12,1)" font-size="10" text-anchor="end">0.008</text>
<text transform="translate(26.9,148.48) scale(1.12,1)" font-size="10" text-anchor="end">0.004</text>
<text transform="translate(26.9,170.88) scale(1.12,1)" font-size="10" text-anchor="end">0.000</text>
<text transform="translate(26.9,179.18) scale(1.12,1)" font-size="10" text-anchor="end">80</text>
<text transform="translate(26.9,201.38) scale(1.12,1)" font-size="10" text-anchor="end">40</text>
<text transform="translate(26.9,224.18) scale(1.12,1)" font-size="10" text-anchor="end">0</text>
<text transform="translate(26.9,231.98) scale(1.12,1)" font-size="10" text-anchor="end">0.5</text>
<text transform="translate(26.9,254.48) scale(1.12,1)" font-size="10" text-anchor="end">0.3</text>
<text transform="translate(26.9,277.18) scale(1.12,1)" font-size="10" text-anchor="end">0.1</text>
<text transform="translate(26.9,284.98) scale(1.12,1)" font-size="10" text-anchor="end">0.05</text>
<text transform="translate(26.9,294.28) scale(1.12,1)" font-size="10" text-anchor="end">0.00</text>
<text transform="translate(26.9,307.28) scale(1.12,1)" font-size="10" text-anchor="end">-0.05</text>
<text transform="translate(26.9,319.78) scale(1.12,1)" font-size="10" text-anchor="end">-0.10</text>
<text transform="translate(26.9,330.28) scale(1.12,1)" font-size="10" text-anchor="end">-0.15</text>
<text transform="translate(27.50,338.8) scale(1.12,1)" font-size="10" text-anchor="middle">0</text>
<text transform="translate(78.20,338.8) scale(1.12,1)" font-size="10" text-anchor="middle">20</text>
<text transform="translate(126.80,338.8) scale(1.12,1)" font-size="10" text-anchor="middle">40</text>
<text transform="translate(176.10,338.8) scale(1.12,1)" font-size="10" text-anchor="middle">60</text>
<text transform="translate(225.10,338.8) scale(1.12,1)" font-size="10" text-anchor="middle">80</text>
<text transform="translate(274.60,338.8) scale(1.12,1)" font-size="10" text-anchor="middle">100</text>
<text transform="translate(323.80,338.8) scale(1.12,1)" font-size="10" text-anchor="middle">120</text>
<text x="182.0" y="351.0" font-size="11.2" text-anchor="middle">time [ms]</text>
</g>
</svg>
</body></html>
